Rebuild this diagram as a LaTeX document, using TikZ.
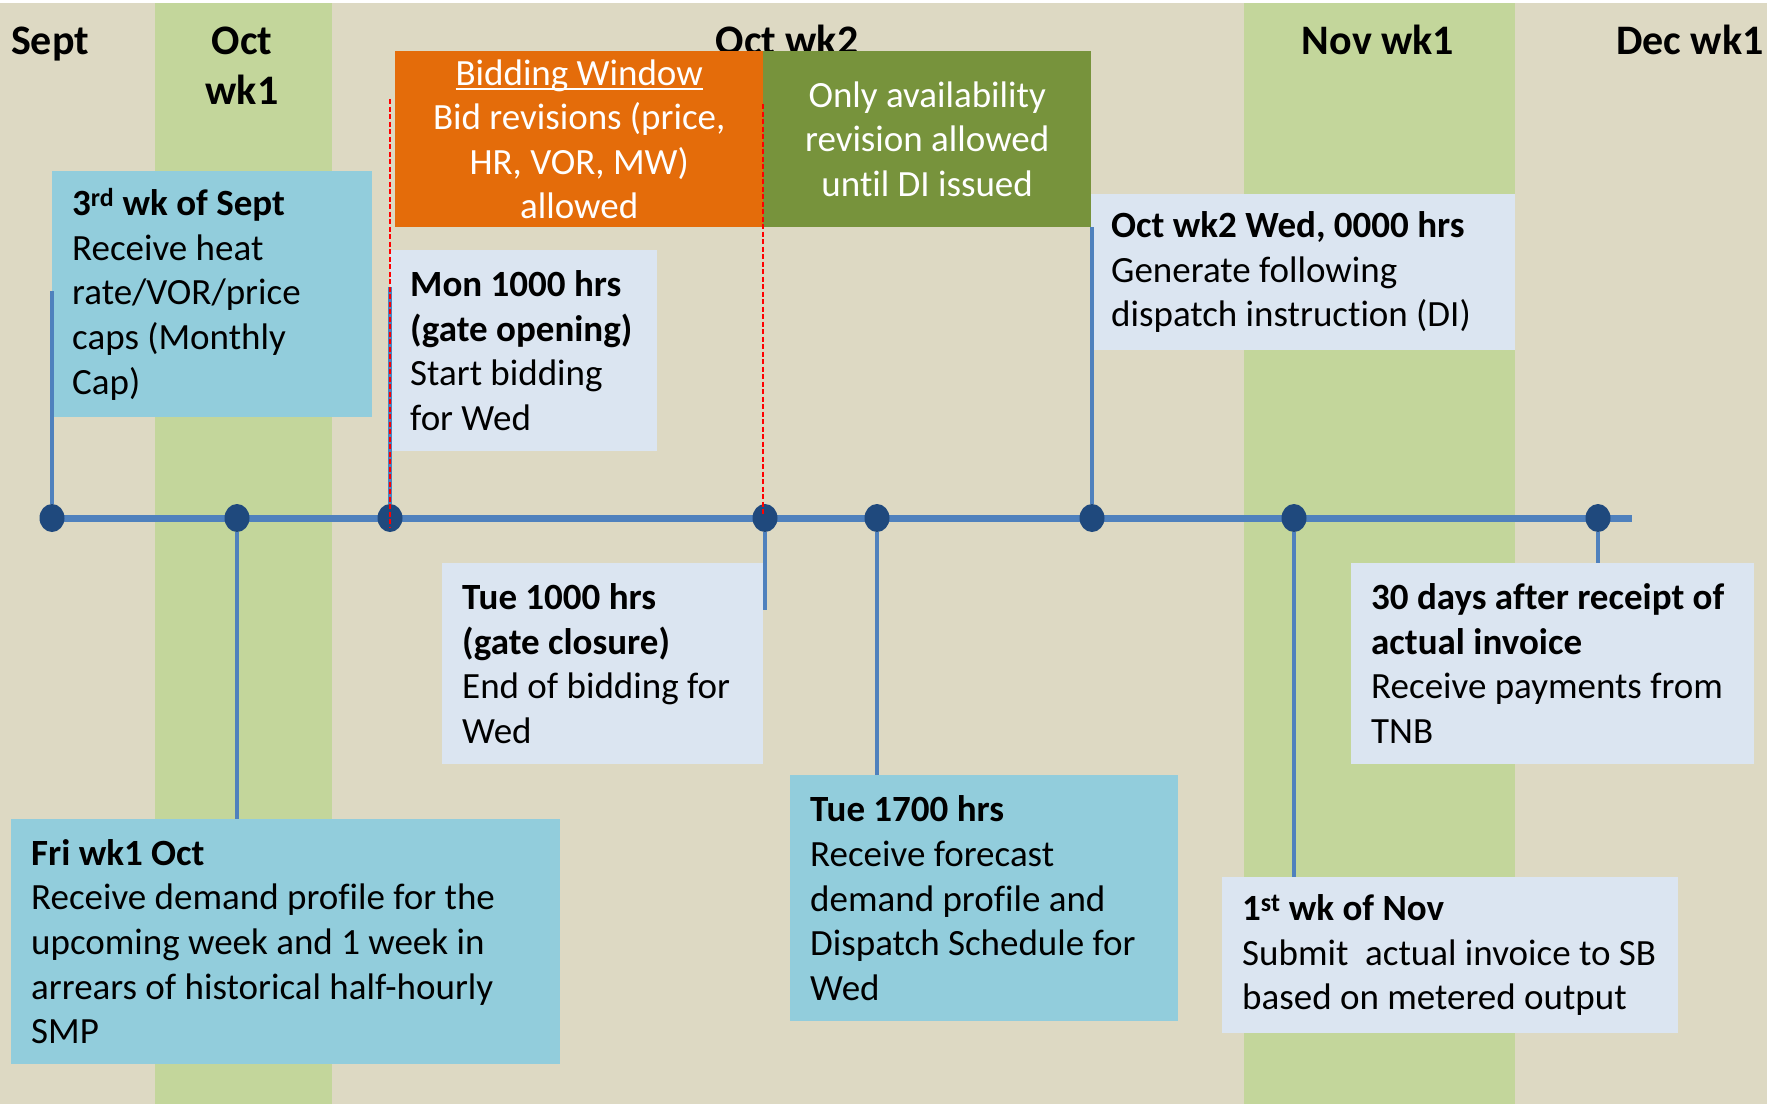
\documentclass[tikz,border=0pt]{standalone}
\usepackage{fontspec}
\setmainfont{Carlito}[Ligatures=NoCommon]
\usetikzlibrary{shapes.geometric,positioning,calc}
\definecolor{bgtan}{RGB}{221,217,195}
\definecolor{bandgreen}{RGB}{195,214,155}
\definecolor{bidorange}{RGB}{228,108,10}
\definecolor{availgreen}{RGB}{119,147,60}
\definecolor{lightfill}{RGB}{219,229,241}
\definecolor{aquafill}{RGB}{146,205,220}
\definecolor{lineblue}{RGB}{79,129,189}
\definecolor{dotblue}{RGB}{31,73,125}
\newcommand{\evfont}{\fontsize{37pt}{44.6pt}\selectfont}
\newcommand{\monthfont}{\bfseries\fontsize{42pt}{50pt}\selectfont}
\newcommand{\winul}[1]{\setbox0\hbox{#1}\rlap{\rule[-5pt]{\wd0}{1.8pt}}\box0}
\tikzstyle{monthlbl} = [anchor=base, inner sep=0pt, font=\monthfont]
\tikzstyle{evbox} = [anchor=north west, rectangle, inner xsep=20pt, inner ysep=0pt, align=flush left, font=\evfont]
\tikzstyle{lightbox} = [evbox, fill=lightfill]
\tikzstyle{aquabox} = [evbox, fill=aquafill]
\tikzstyle{windowbox} = [evbox, align=flush center, text=white]
\tikzstyle{conn} = [draw=lineblue, line width=3.5pt]
\tikzstyle{timeline} = [draw=lineblue, line width=7pt]
\tikzstyle{tldot} = [ellipse, fill=dotblue, minimum width=25pt, minimum height=28pt, inner sep=0pt]
\tikzstyle{gate} = [draw=red, line width=1.6pt, dash pattern=on 5pt off 2.5pt]
\begin{document}
\begin{tikzpicture}[x=1pt, y=-1pt]
        \useasboundingbox (0,0) rectangle (1767,1104);
        \fill[white] (0,0) rectangle (1767,1104);
        \fill[bgtan] (0,3) rectangle (1767,1104);
        \fill[bandgreen] (155,3) rectangle (332,1104);
        \fill[bandgreen] (1244,3) rectangle (1515,1104);
        \node[monthlbl] (sept) at (50,54) {Sept};
        \node[monthlbl] (octa) at (242,54) {Oct};
        \node[monthlbl] (octb) at (242,104) {wk1};
        \node[monthlbl] (octwk2) at (787,54) {Oct wk2};
        \node[monthlbl] (novwk1) at (1378,54) {Nov wk1};
        \node[monthlbl] (decwk1) at (1690,54) {Dec wk1};
        \node[windowbox, fill=bidorange, text width=328pt, minimum height=176pt] (bid) at (395,51) {\winul{Bidding Window}\\Bid revisions (price,\\HR, VOR, MW)\\allowed};
        \node[windowbox, fill=availgreen, text width=288pt, minimum height=176pt] (only) at (763,51) {Only availability\\revision allowed\\until DI issued};
        \node[aquabox, text width=280pt, minimum height=246pt] (sept3) at (52,171) {\textbf{3\textsuperscript{rd} wk of Sept}\\Receive heat\\rate/VOR/price\\caps (Monthly\\Cap)};
        \node[lightbox, text width=227pt, minimum height=201pt] (mon) at (390,250) {\textbf{Mon 1000 hrs}\\\textbf{(gate opening)}\\Start bidding\\for Wed};
        \node[lightbox, text width=384pt, minimum height=156pt] (octwed) at (1091,194) {\textbf{Oct wk2 Wed, 0000 hrs}\\Generate following\\dispatch instruction (DI)};
        \node[lightbox, text width=281pt, minimum height=201pt] (tue10) at (442,563) {\textbf{Tue 1000 hrs}\\\textbf{(gate closure)}\\End of bidding for\\Wed};
        \node[lightbox, text width=363pt, minimum height=201pt] (days30) at (1351,563) {\textbf{30 days after receipt of}\\\textbf{actual invoice}\\Receive payments from\\TNB};
        \node[aquabox, text width=509pt, minimum height=245pt] (fri) at (11,819) {\textbf{Fri wk1 Oct}\\Receive demand profile for the\\upcoming week and 1 week in\\arrears of historical half-hourly\\SMP};
        \node[aquabox, text width=348pt, minimum height=246pt] (tue17) at (790,775) {\textbf{Tue 1700 hrs}\\Receive forecast\\demand profile and\\Dispatch Schedule for\\Wed};
        \node[lightbox, text width=416pt, minimum height=156pt] (nov1) at (1222,877) {\textbf{1\textsuperscript{st} wk of Nov}\\Submit\ \ actual invoice to SB\\based on metered output};
        \coordinate (tlstart) at (52,518);
        \coordinate (tlend) at (1632,518);
        \draw[timeline] (tlstart) -- (tlend);
        \foreach \x/\n in {52/d1, 237/d2, 390/d3, 765/d4, 877/d5, 1092/d6, 1294/d7, 1598/d8}
            \node[tldot] (\n) at (\x,518) {};
        \coordinate (c1) at (52,291);
        \coordinate (c3) at (390,287);
        \coordinate (c4) at (765,610);
        \draw[conn] (d1.north) -- (c1);
        \draw[conn] (d2.south) -- (d2 |- fri.north);
        \draw[conn] (d3.north) -- (c3);
        \draw[conn] (d4.south) -- (c4);
        \draw[conn] (d5.south) -- (d5 |- tue17.north);
        \draw[conn] (d6.north) -- (d6 |- only.south);
        \draw[conn] (d7.south) -- (d7 |- nov1.north);
        \draw[conn] (d8.south) -- (d8 |- days30.north);
        \coordinate (gopen) at (390,99);
        \coordinate (gopenend) at (390,527);
        \coordinate (gclose) at (763,104);
        \coordinate (gcloseend) at (763,514);
        \draw[gate] (gopen) -- (gopenend);
        \draw[gate] (gclose) -- (gcloseend);
\end{tikzpicture}
\end{document}
